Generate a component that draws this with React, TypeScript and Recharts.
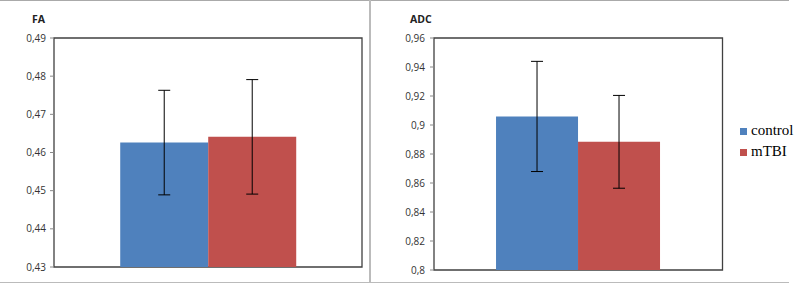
import React from 'react';
import { BarChart, Bar, XAxis, YAxis, ErrorBar, ReferenceArea, Legend } from 'recharts';

const groups = ['control', 'mTBI'];
const colors = ['#4F81BD', '#C0504D'];

const faMeans = [0.4626, 0.4641];
const faErrors = [0.0137, 0.015];
const faTicks = [0.43, 0.44, 0.45, 0.46, 0.47, 0.48, 0.49];

const adcMeans = [0.9059, 0.8884];
const adcErrors = [0.038, 0.032];
const adcTicks = [0.8, 0.82, 0.84, 0.86, 0.88, 0.9, 0.92, 0.94, 0.96];

function buildRow(name: string, means: number[], errs: number[]) {
  const row: any = { name };
  groups.forEach((g, i) => {
    row[g] = means[i];
    row[g + 'Err'] = errs[i];
  });
  return [row];
}

const faData = buildRow('FA', faMeans, faErrors);
const adcData = buildRow('ADC', adcMeans, adcErrors);

const fmt = (v: number) => String(Number(v.toFixed(2))).replace('.', ',');

const tickStyle = { fontFamily: 'Open Sans', fontSize: 10, fill: '#333' };

function Panel(props: {
  data: any[];
  ticks: number[];
  width: number;
  margin: any;
  yWidth: number;
  tickMargin: number;
  legend?: boolean;
}) {
  const { data, ticks, width, margin, yWidth, tickMargin, legend } = props;
  const lo = ticks[0];
  const hi = ticks[ticks.length - 1];
  return (
    <BarChart
      width={width}
      height={286}
      data={data}
      margin={margin}
      barCategoryGap="21.5%"
      barGap={0}
    >
      <XAxis dataKey="name" hide />
      <YAxis
        domain={[lo, hi]}
        ticks={ticks}
        width={yWidth}
        tickFormatter={fmt}
        tick={tickStyle}
        tickSize={4}
        tickMargin={tickMargin}
        axisLine={false}
        tickLine={{ stroke: '#888' }}
        interval={0}
      />
      <ReferenceArea y1={lo} y2={hi} fill="none" stroke="#404040" strokeWidth={1.3} />
      {groups.map((g, i) => (
        <Bar key={g} dataKey={g} fill={colors[i]} isAnimationActive={false}>
          <ErrorBar dataKey={g + 'Err'} width={6} stroke="#000" strokeWidth={1} />
        </Bar>
      ))}
      {legend && (
        <Legend
          layout="vertical"
          align="right"
          verticalAlign="middle"
          iconType="square"
          iconSize={7}
          formatter={(value: any) => <span style={{ color: '#000' }}>{value}</span>}
          wrapperStyle={{
            position: 'absolute',
            left: 369,
            top: 120,
            width: 'auto',
            fontFamily: 'Liberation Serif',
            fontSize: 15,
            lineHeight: '21px',
          }}
        />
      )}
    </BarChart>
  );
}

export default function App() {
  return (
    <div
      style={{
        position: 'absolute',
        left: 0,
        top: 0,
        width: 810,
        height: 286,
        background: '#fff',
        overflow: 'hidden',
      }}
    >
      <div style={{ position: 'absolute', left: 0, top: 0, width: 789, height: 1, background: '#aaa' }} />
      <div style={{ position: 'absolute', left: 0, top: 282, width: 789, height: 1, background: '#bbb' }} />
      <div style={{ position: 'absolute', left: 369, top: 0, width: 2, height: 283, background: '#bbb' }} />
      <div
        style={{
          position: 'absolute',
          left: 32,
          top: 12,
          fontFamily: 'Open Sans',
          fontWeight: 700,
          fontSize: 10.5,
          color: '#222',
        }}
      >
        FA
      </div>
      <div
        style={{
          position: 'absolute',
          left: 410,
          top: 12,
          fontFamily: 'Open Sans',
          fontWeight: 700,
          fontSize: 10.5,
          color: '#222',
        }}
      >
        ADC
      </div>
      <div style={{ position: 'absolute', left: 0, top: 0 }}>
        <Panel
          data={faData}
          ticks={faTicks}
          width={369}
          margin={{ top: 38, right: 7, bottom: 19, left: 0 }}
          yWidth={54}
          tickMargin={4}
        />
      </div>
      <div style={{ position: 'absolute', left: 371, top: 0 }}>
        <Panel
          data={adcData}
          ticks={adcTicks}
          width={439}
          margin={{ top: 38, right: 24, bottom: 16, left: 0 }}
          yWidth={63}
          tickMargin={5}
          legend
        />
      </div>
    </div>
  );
}
